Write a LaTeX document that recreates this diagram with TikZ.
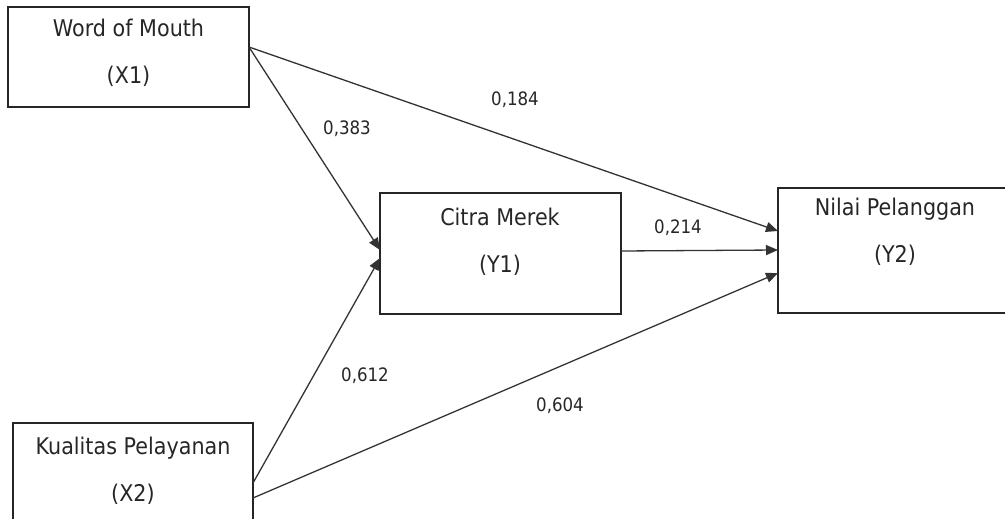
\documentclass[tikz,border=0pt]{standalone}
\usepackage{fontspec}
\setmainfont{DejaVu Sans}[FakeStretch=0.9]
\usepackage{tikz}
\usetikzlibrary{arrows.meta}
\tikzset{
  varbox/.style={draw=black!85, line width=1.6pt, rectangle, inner sep=0pt, outer sep=0pt, fill=none},
  varlabl/.style={align=center, inner sep=0pt, text=black!85, font=\fontsize{23}{47}\selectfont},
  coefnode/.style={inner sep=0pt, text=black!85, font=\fontsize{18.5}{22}\selectfont},
  path/.style={draw=black!80, line width=1.3pt, -{Triangle[length=12pt,width=10pt]}}
}
\newcommand{\varbox}[5]{\node[varbox, minimum width=#4pt, minimum height=#5pt] (#1) at ( #2 , #3 ) {};}
\newcommand{\varlabl}[4]{\node[varlabl] (#1) at ( #2 , #3 ) {#4};}
\newcommand{\coefnode}[4]{\node[coefnode] (#1) at ( #2 , #3 ) {#4};}
\begin{document}
\begin{tikzpicture}[x=1pt, y=-1pt]

        \useasboundingbox (0,0) rectangle (1005,519);
        \clip (0,0) rectangle (1005,519);

        % boxes
        \varbox{x1}{128.5}{57}{241}{100}
        \varbox{x2}{133}{473}{240}{100}
        \varbox{y1}{500.5}{253.5}{241}{121}
        \varbox{y2}{918}{250.5}{280}{125}

        \varlabl{x1t}{128.5}{52.5}{Word of Mouth\\(X1)}
        \varlabl{x2t}{133}{471}{Kualitas Pelayanan\\(X2)}
        \varlabl{y1t}{500}{241.5}{Citra Merek\\(Y1)}
        \varlabl{y2t}{895}{231.5}{Nilai Pelanggan\\(Y2)}

        % paths
        \draw[path] ([yshift=10pt]x1.east) -- ([yshift=3.5pt]y1.west);
        \draw[path] ([yshift=10pt]x1.east) -- ([yshift=19.5pt]y2.west);
        \draw[path] ([yshift=-10pt]x2.east) -- ([yshift=-4.5pt]y1.west);
        \draw[path] ([yshift=-25pt]x2.east) -- ([yshift=-22.5pt]y2.west);
        \draw[path] ([yshift=2.5pt]y1.east) -- ([yshift=0.5pt]y2.west);

        % coefficients
        \coefnode{c1}{347}{129}{0,383}
        \coefnode{c2}{515}{100}{0,184}
        \coefnode{c3}{678}{228}{0,214}
        \coefnode{c4}{365}{376}{0,612}
        \coefnode{c5}{560}{406}{0,604}

    \end{tikzpicture}
\end{document}
